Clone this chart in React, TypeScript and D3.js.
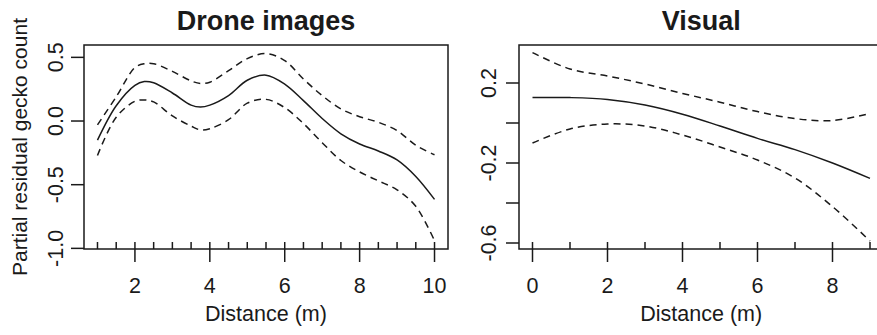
import * as d3 from "d3";

// Drone images panel
const droneX = [1, 1.5, 2, 2.25, 2.5, 3, 3.5, 3.75, 4, 4.5, 5, 5.5, 6, 6.5, 7, 7.5, 8, 8.5, 9, 9.5, 10];
const droneFit = [-0.15, 0.12, 0.28, 0.31, 0.3, 0.22, 0.125, 0.11, 0.125, 0.2, 0.32, 0.36, 0.29, 0.16, 0.02, -0.1, -0.18, -0.235, -0.305, -0.435, -0.615];
const droneUpper = [-0.03, 0.19, 0.42, 0.45, 0.45, 0.39, 0.315, 0.295, 0.305, 0.395, 0.49, 0.53, 0.475, 0.33, 0.2, 0.095, 0.034, -0.01, -0.075, -0.19, -0.265];
const droneLower = [-0.27, 0.03, 0.155, 0.165, 0.15, 0.04, -0.04, -0.07, -0.06, 0.01, 0.14, 0.17, 0.105, -0.02, -0.17, -0.31, -0.4, -0.47, -0.54, -0.67, -0.94];
const droneRug = [1, 1.5, 2, 2.5, 3, 3.5, 4, 4.5, 5, 5.5, 6, 6.5, 7, 7.5, 8, 8.5, 9, 9.5, 10];
const droneXTicks = [2, 4, 6, 8, 10];
const droneYTicks = [-1, -0.5, 0, 0.5];
const droneYLabels = ["-1.0", "-0.5", "0.0", "0.5"];

// Visual panel
const visualX = [0, 1, 2, 3, 4, 5, 6, 7, 8, 9];
const visualFit = [0.127, 0.127, 0.118, 0.09, 0.044, -0.015, -0.077, -0.133, -0.2, -0.277];
const visualUpper = [0.352, 0.27, 0.235, 0.195, 0.148, 0.104, 0.057, 0.022, 0.012, 0.048];
const visualLower = [-0.1, -0.03, -0.005, -0.015, -0.06, -0.12, -0.185, -0.275, -0.418, -0.59];
const visualRug = [0, 1, 2, 3, 4, 5, 6, 7, 8, 9];
const visualXTicks = [0, 2, 4, 6, 8];
const visualYTicks = [-0.6, -0.4, -0.2, 0, 0.2];
const visualYLabels = ["-0.6", "", "-0.2", "", "0.2"];

const font = "'Liberation Sans', Arial, sans-serif";
const ink = "#1a1a1a";

function Panel({ title, left, right, xDomain, yDomain, xs, fit, upper, lower, rug, xTicks, yTicks, yLabels, yLabelX }) {
  const top = 45;
  const bottom = 249;
  const x = d3.scaleLinear().domain(xDomain).range([left, right]);
  const y = d3.scaleLinear().domain(yDomain).range([bottom, top]);
  const line = (vals) =>
    d3
      .line()
      .x((d, i) => x(xs[i]))
      .y((d) => y(d))
      .curve(d3.curveCatmullRom)(vals);
  const cx = (left + right) / 2;

  return (
    <g>
      <text x={cx} y={30} textAnchor="middle" fontSize={27} fontWeight="bold" fontFamily={font} fill={ink}>
        {title}
      </text>
      <rect x={left} y={top} width={right - left} height={bottom - top} fill="none" stroke={ink} strokeWidth={1.5} />
      <path d={line(fit)} fill="none" stroke={ink} strokeWidth={1.5} />
      <path d={line(upper)} fill="none" stroke={ink} strokeWidth={1.5} strokeDasharray="7,5" />
      <path d={line(lower)} fill="none" stroke={ink} strokeWidth={1.5} strokeDasharray="7,5" />
      {rug.map((r) => (
        <line key={"r" + r} x1={x(r)} x2={x(r)} y1={bottom} y2={bottom - 7} stroke={ink} strokeWidth={1.5} />
      ))}
      {xTicks.map((t) => (
        <g key={"x" + t}>
          <line x1={x(t)} x2={x(t)} y1={bottom} y2={bottom + 13} stroke={ink} strokeWidth={1.5} />
          <text x={x(t)} y={293} textAnchor="middle" fontSize={21.5} fontFamily={font} fill={ink}>
            {t}
          </text>
        </g>
      ))}
      {yTicks.map((t, i) => (
        <g key={"y" + t}>
          <line x1={left} x2={left - 13} y1={y(t)} y2={y(t)} stroke={ink} strokeWidth={1.5} />
          <text
            transform={`translate(${yLabelX},${y(t)}) rotate(-90)`}
            textAnchor="middle"
            fontSize={21.5}
            fontFamily={font}
            fill={ink}
          >
            {yLabels[i]}
          </text>
        </g>
      ))}
      <text x={cx} y={321} textAnchor="middle" fontSize={21.5} fontFamily={font} fill={ink}>
        Distance (m)
      </text>
    </g>
  );
}

export default function App() {
  return (
    <svg width={877} height={335} style={{ position: "absolute", left: 0, top: 0, background: "#fff" }}>
      <rect width={877} height={335} fill="#fff" />
      <text
        transform="translate(27,147) rotate(-90)"
        textAnchor="middle"
        fontSize={21}
        fontFamily={font}
        fill={ink}
      >
        Partial residual gecko count
      </text>
      <Panel
        title="Drone images"
        left={84}
        right={448}
        xDomain={[0.64, 10.36]}
        yDomain={[-1.005, 0.597]}
        xs={droneX}
        fit={droneFit}
        upper={droneUpper}
        lower={droneLower}
        rug={droneRug}
        xTicks={droneXTicks}
        yTicks={droneYTicks}
        yLabels={droneYLabels}
        yLabelX={63}
      />
      <Panel
        title="Visual"
        left={519}
        right={883.5}
        xDomain={[-0.36, 9.36]}
        yDomain={[-0.63, 0.39]}
        xs={visualX}
        fit={visualFit}
        upper={visualUpper}
        lower={visualLower}
        rug={visualRug}
        xTicks={visualXTicks}
        yTicks={visualYTicks}
        yLabels={visualYLabels}
        yLabelX={496}
      />
    </svg>
  );
}
